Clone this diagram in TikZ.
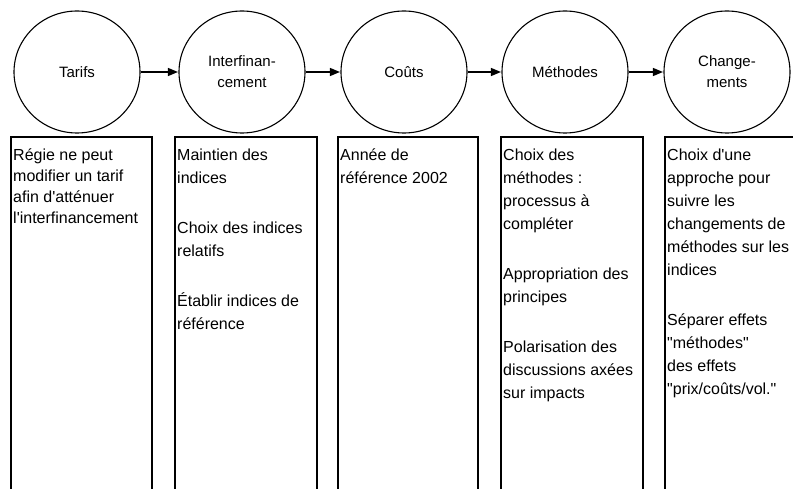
\documentclass[tikz,border=0pt]{standalone}
\usepackage{fontspec}
\newfontfamily\basefont{Liberation Sans}
\usetikzlibrary{arrows.meta,shapes.geometric}
\newcommand{\firststrut}{\rule{0pt}{13pt}}
\begin{document}
\begin{tikzpicture}[x=1pt,y=-1pt,
  stage/.style={draw, line width=1.1pt, ellipse, minimum width=126pt, minimum height=122pt,
    inner sep=0pt, align=center, font=\basefont\fontsize{15}{21}\selectfont},
  arr/.style={line width=1.3pt, -{Triangle[length=10pt,width=8pt]}, shorten >=0.5pt},
  boxline/.style={line width=1.3pt},
  boxtext/.style={anchor=north west, align=left, inner sep=0pt, font=\basefont\fontsize{16}{23}\selectfont}
]
\useasboundingbox (0,0) rectangle (793,489);
% stages
\node[stage] (c1) at (77,72) {Tarifs};
\node[stage] (c2) at (242,72) {Interfinan-\\cement};
\node[stage] (c3) at (404,72) {Coûts};
\node[stage] (c4) at (565,72) {Méthodes};
\node[stage] (c5) at (727,72) {Change-\\ments};
\draw[arr] (c1.east) -- (c2.west);
\draw[arr] (c2.east) -- (c3.west);
\draw[arr] (c3.east) -- (c4.west);
\draw[arr] (c4.east) -- (c5.west);
% boxes (open at the bottom)
\draw[boxline] (11,495) -- (11,137) -- (152,137) -- (152,495);
\draw[boxline] (175,495) -- (175,137) -- (317,137) -- (317,495);
\draw[boxline] (338,495) -- (338,137) -- (478,137) -- (478,495);
\draw[boxline] (501,495) -- (501,137) -- (643,137) -- (643,495);
\draw[boxline] (665,495) -- (665,137) -- (805,137) -- (805,495);
% texts
\node[boxtext, font=\basefont\fontsize{16}{21}\selectfont] (t1) at (13,147)
  {\firststrut Régie ne peut\\modifier un tarif\\afin d'atténuer\\l'interfinancement};
\node[boxtext] (t2) at (177,147)
  {\firststrut Maintien des\\indices\\[27pt]Choix des indices\\relatifs\\[27pt]Établir indices de\\référence};
\node[boxtext] (t3) at (340,147)
  {\firststrut Année de\\référence 2002};
\node[boxtext] (t4) at (503,147)
  {\firststrut Choix des\\méthodes :\\processus à\\compléter\\[27pt]Appropriation des\\principes\\[27pt]Polarisation des\\discussions axées\\sur impacts};
\node[boxtext] (t5) at (667,147)
  {\firststrut Choix d'une\\approche pour\\suivre les\\changements de\\méthodes sur les\\indices\\[27pt]Séparer effets\\"méthodes"\\des effets\\"prix/coûts/vol."};
\end{tikzpicture}
\end{document}
